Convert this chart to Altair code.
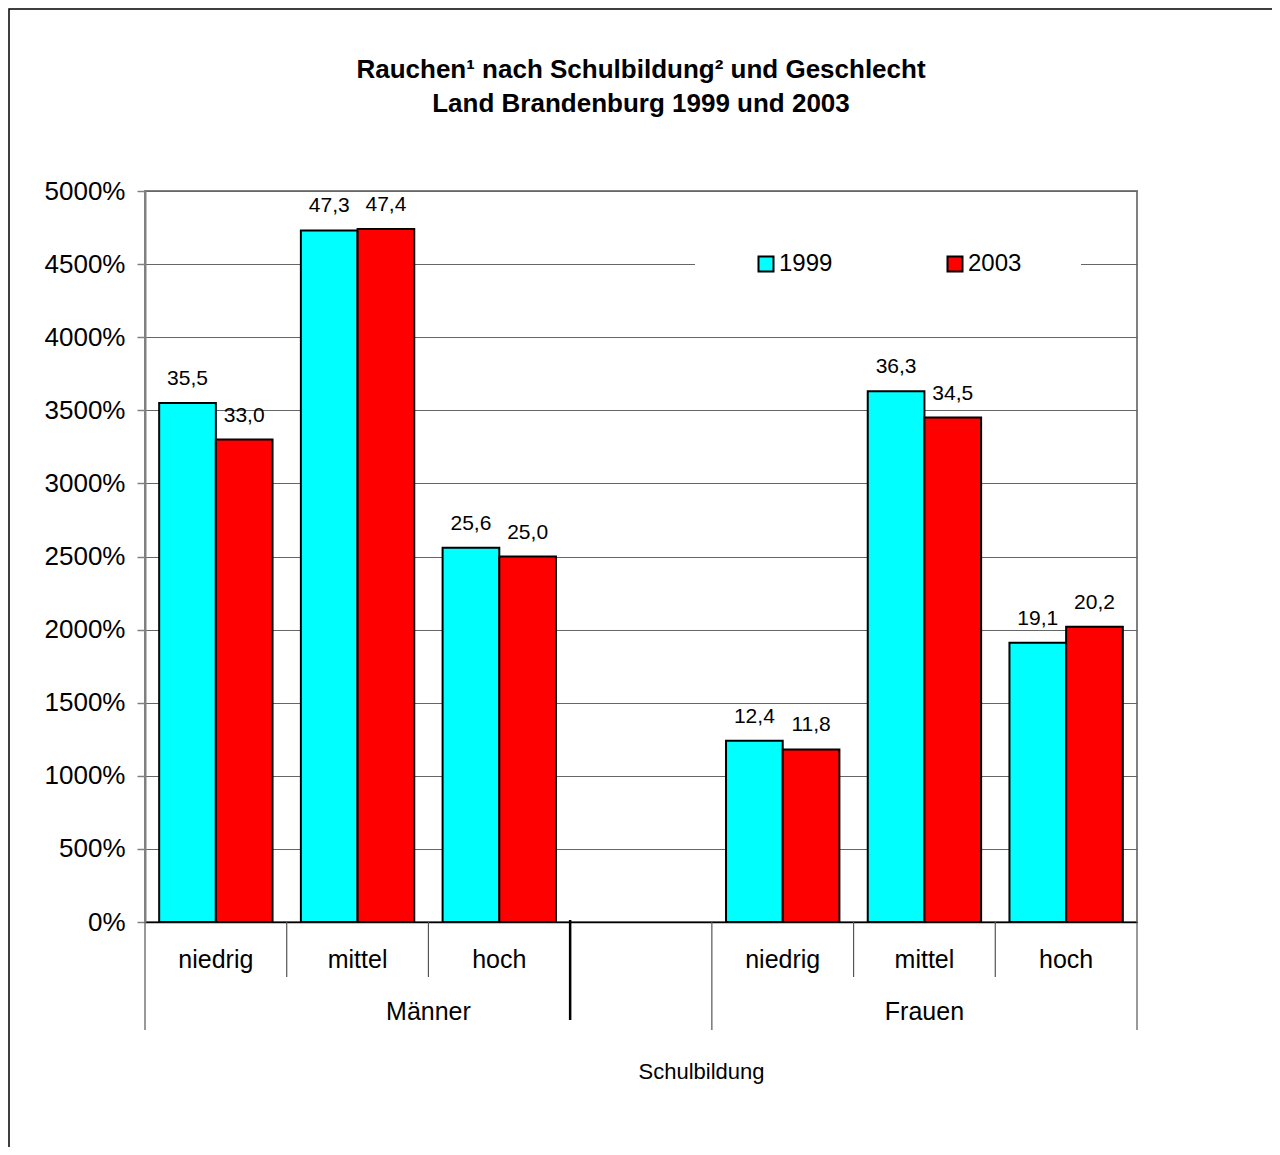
import altair as alt
import pandas as pd

# ---- data ----
groups = ["Männer", "Männer", "Männer", "Frauen", "Frauen", "Frauen"]
levels = ["niedrig", "mittel", "hoch", "niedrig", "mittel", "hoch"]
v1999 = [35.5, 47.3, 25.6, 12.4, 36.3, 19.1]
v2003 = [33.0, 47.4, 25.0, 11.8, 34.5, 20.2]
years = ["1999", "2003"]
colors = ["#00FFFF", "#FF0000"]
y_ticks = [0, 5, 10, 15, 20, 25, 30, 35, 40, 45, 50]
group_names = ["Männer", "Frauen"]
group_spans = [(0, 4), (4, 7)]          # slot spans of the two groups
short_seps = [1, 2, 5, 6]
long_seps = [0, 4, 7]
special_seps = [3]

FONT = "Liberation Sans"
W, H = 992, 731

slot_ids = [f"{g}|{l}" for g, l in zip(groups, levels)]
slot_order = slot_ids[:3] + ["|"] + slot_ids[3:]
slot_labels = levels[:3] + [""] + levels[3:]

rows = []
for s, a, b in zip(slot_ids, v1999, v2003):
    for y, v in zip(years, (a, b)):
        rows.append({"slot": s, "year": y, "value": v,
                     "label": f"{v:.1f}".replace(".", ",")})
df = pd.DataFrame(rows)
cat_df = pd.DataFrame({"slot": slot_order, "text": slot_labels})
grp_df = pd.DataFrame({"pos": [(a + b) / 2 for a, b in group_spans], "text": group_names})
short_df = pd.DataFrame({"pos": short_seps})
long_df = pd.DataFrame({"pos": long_seps})
special_df = pd.DataFrame({"pos": special_seps})

x_band = alt.X(
    "slot:N",
    scale=alt.Scale(domain=slot_order, paddingInner=0.2, paddingOuter=0.1),
    axis=alt.Axis(labels=False, ticks=False, grid=False, domainColor="black",
                  domainWidth=1.5, title="Schulbildung", titleFontSize=22,
                  titleFontWeight="normal", titleX=556, titleY=149,
                  titleBaseline="middle", titleAlign="center", titleFont=FONT),
)
x_off = alt.XOffset("year:N", scale=alt.Scale(domain=years, paddingInner=0, paddingOuter=0))
y_enc = alt.Y(
    "value:Q",
    scale=alt.Scale(domain=[0, 50], nice=False, zero=True),
    axis=alt.Axis(values=y_ticks, format=".0%", title=None, labelFontSize=26,
                  labelFont=FONT, labelColor="black", labelPadding=12,
                  tickSize=8, tickColor="#808080", tickWidth=1.5,
                  domainColor="#808080", domainWidth=2,
                  gridColor="#666666", gridWidth=1),
)

bars = alt.Chart(df).mark_bar(stroke="black", strokeWidth=2).encode(
    x=x_band, xOffset=x_off, y=y_enc,
    color=alt.Color(
        "year:N",
        scale=alt.Scale(domain=years, range=colors),
        legend=alt.Legend(orient="none", legendX=550, legendY=2,
                          direction="horizontal", columns=2, title=None,
                          fillColor="white", padding=59, columnPadding=110,
                          symbolType="square", symbolSize=225,
                          symbolStrokeColor="black", symbolStrokeWidth=2,
                          labelFontSize=24, labelFont=FONT, labelColor="black",
                          labelOffset=1),
    ),
)

vals = alt.Chart(df).mark_text(baseline="middle", dy=-24, fontSize=21,
                               font=FONT, color="black").encode(
    x=x_band, xOffset=x_off, y=y_enc, text="label:N"
)

cats = alt.Chart(cat_df).mark_text(baseline="middle", fontSize=25,
                                   font=FONT, color="black").encode(
    x=x_band, y=alt.value(769), text="text:N"
)

inner = alt.layer(bars, vals, cats)

qx = alt.X("pos:Q", scale=alt.Scale(domain=[0, 7], nice=False, zero=False), axis=None)

short_r = alt.Chart(short_df).mark_rule(color="#555555", strokeWidth=1.2).encode(
    x=qx, y=alt.value(731), y2=alt.value(786))
long_r = alt.Chart(long_df).mark_rule(color="#555555", strokeWidth=1.2).encode(
    x=qx, y=alt.value(731), y2=alt.value(839))
spec_r = alt.Chart(special_df).mark_rule(color="black", strokeWidth=2.5).encode(
    x=qx, y=alt.value(729), y2=alt.value(829))
grp_t = alt.Chart(grp_df).mark_text(baseline="middle", fontSize=25, font=FONT,
                                    color="black").encode(
    x=qx, y=alt.value(821), text="text:N")
border = alt.Chart(pd.DataFrame({"a": [0]})).mark_rect(
    fill="transparent", stroke="black", strokeWidth=1.5).encode(
    x=alt.value(-136), x2=alt.value(1400), y=alt.value(-182), y2=alt.value(1200))

outer = alt.layer(border, short_r, long_r, spec_r, grp_t)

chart = alt.layer(inner, outer).resolve_scale(x="independent").properties(
    width=W, height=H,
    title=alt.Title(["Rauchen¹ nach Schulbildung² und Geschlecht",
                     "Land Brandenburg 1999 und 2003"],
                    fontSize=26, fontWeight="bold", font=FONT, lineHeight=34,
                    offset=0, dy=109, anchor="middle", frame="group", color="black"),
    autosize=alt.AutoSizeParams(type="none"),
    padding={"left": 137, "top": 183, "right": 135, "bottom": 225},
    background="white",
).configure_view(stroke="#808080", strokeWidth=2)

chart.save("out.html", embed_options={"renderer": "svg", "actions": False})
